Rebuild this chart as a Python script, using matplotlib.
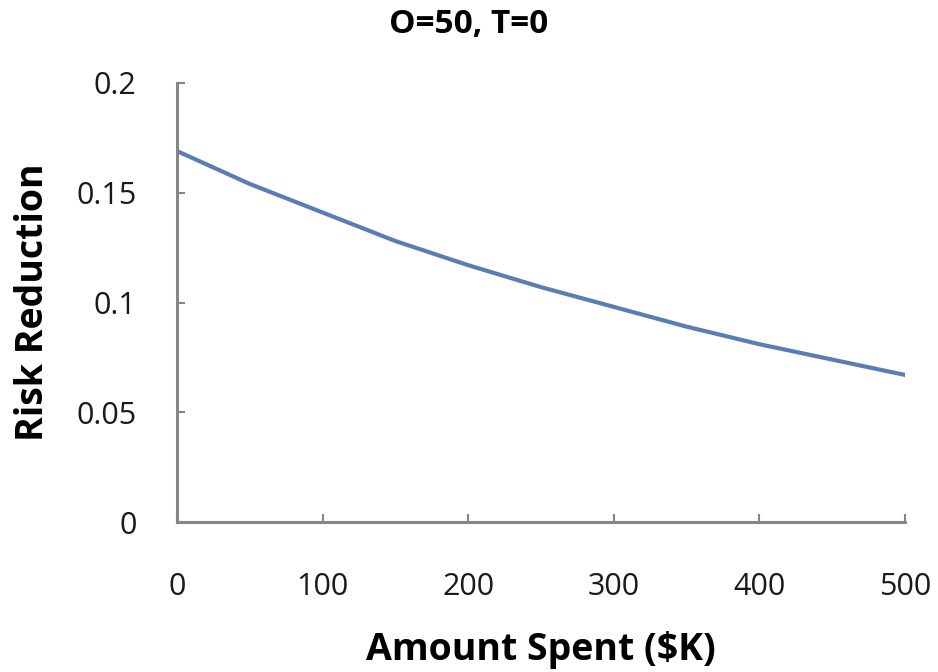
import matplotlib
matplotlib.use('Agg')
import matplotlib.pyplot as plt

# Curve
amount = [0, 50, 100, 150, 200, 250, 300, 350, 400, 450, 500]
risk = [0.169, 0.154, 0.141, 0.128, 0.117, 0.107, 0.098, 0.089, 0.081, 0.074, 0.067]
x_ticks = [0, 100, 200, 300, 400, 500]
y_ticks = [0, 0.05, 0.1, 0.15, 0.2]
y_labels = ['0', '0.05', '0.1', '0.15', '0.2']

plt.rcParams['font.family'] = ['Open Sans', 'DejaVu Sans']

fig = plt.figure(figsize=(9.38, 6.72), dpi=100)
ax = fig.add_axes([0.1887, 0.2232, 0.7761, 0.6533])
ax.plot(amount, risk, color='#5a7db6', linewidth=3)

ax.set_xlim(0, 500)
ax.set_ylim(0, 0.2)
ax.set_xticks(x_ticks)
ax.set_yticks(y_ticks)
ax.set_yticklabels(y_labels)

for s in ['top', 'right']:
    ax.spines[s].set_visible(False)
for s in ['left', 'bottom']:
    ax.spines[s].set_color('#868686')
    ax.spines[s].set_linewidth(2.2)

ax.tick_params(axis='both', direction='in', color='#868686', width=1.5, length=6,
               labelsize=22, labelcolor='#1a1a1a')
ax.tick_params(axis='x', pad=36)
ax.tick_params(axis='y', pad=29)

fig.text(0.5, 0.963, 'O=50, T=0', ha='center', va='center', fontsize=24, fontweight='bold')
fig.text(0.577, 0.032, 'Amount Spent ($K)', ha='center', va='center', fontsize=27, fontweight='bold')
fig.text(0.035, 0.55, 'Risk Reduction', ha='center', va='center', rotation=90,
         fontsize=27, fontweight='bold')

fig.savefig('out.png', dpi=100)
